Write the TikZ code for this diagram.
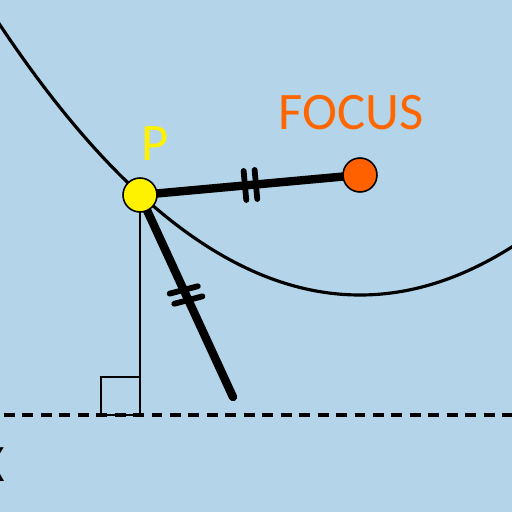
\documentclass[tikz,border=0pt]{standalone}
\usepackage{fontspec}
\setmainfont{Carlito}
\usetikzlibrary{calc}
\definecolor{bgblue}{HTML}{B4D5E9}
\definecolor{focusorange}{HTML}{FF6000}
\definecolor{labelorange}{HTML}{FF6600}
\tikzset{
  dot/.style={circle, draw=black, line width=0.9pt, minimum size=0.68cm, inner sep=0pt},
  thickseg/.style={line width=4.8pt, line cap=round},
  tick/.style={line width=3.3pt, line cap=round},
  lbl/.style={font=\fontsize{30}{31}\selectfont, inner sep=0pt}
}
\begin{document}
\begin{tikzpicture}[x=0.02cm, y=-0.02cm]
\useasboundingbox (0,0) rectangle (512,512);
\clip (0,0) rectangle (512,512);
\fill[bgblue] (0,0) rectangle (512,512);
% parabola
\draw[line width=1.8pt] plot[domain=-5:520, samples=120, smooth] (\x, {295-((\x-360)/480)*(\x-360)});
% directrix
\coordinate (dl) at (4,415);
\coordinate (dr) at (515,415);
\draw[line width=1.8pt, dash pattern=on 6.2pt off 4.3pt] (dl) -- (dr);
\node[lbl, text=black, anchor=center] (X) at (-9,465) {X};
% key points
\coordinate (foot) at (140,415);
\coordinate (E) at (233,397);
\coordinate (Pc) at (140,195);
\coordinate (Fc) at (360,175);
% perpendicular
\draw[line width=0.85pt] (Pc) -- (foot);
\draw[line width=1.2pt] (foot) -- (101,415) -- (101,377) -- (140,377);
% thick segments
\draw[thickseg] (Pc) -- (Fc);
\draw[thickseg] (Pc) -- (E);
\node[dot, fill=yellow] (P) at (Pc) {};
\node[dot, fill=focusorange] (F) at (Fc) {};
% ticks on PF
\path (Pc) -- (Fc) coordinate[pos=0.477] (a1) coordinate[pos=0.527] (a2);
\draw[tick] ($(a1)!8.3pt!90:(Fc)$) -- ($(a1)!8.3pt!-90:(Fc)$);
\draw[tick] ($(a2)!8.3pt!90:(Fc)$) -- ($(a2)!8.3pt!-90:(Fc)$);
% ticks on PE
\path (Pc) -- (E) coordinate[pos=0.47] (b1) coordinate[pos=0.52] (b2);
\draw[tick] ($(b1)!8.3pt!80:(E)$) -- ($(b1)!8.3pt!-100:(E)$);
\draw[tick] ($(b2)!8.3pt!80:(E)$) -- ($(b2)!8.3pt!-100:(E)$);
% labels
\node[lbl, text=yellow] (Pl) at (155,144) {P};
\node[lbl, text=labelorange] (Fl) at (351,113) {FOCUS};
\end{tikzpicture}
\end{document}
